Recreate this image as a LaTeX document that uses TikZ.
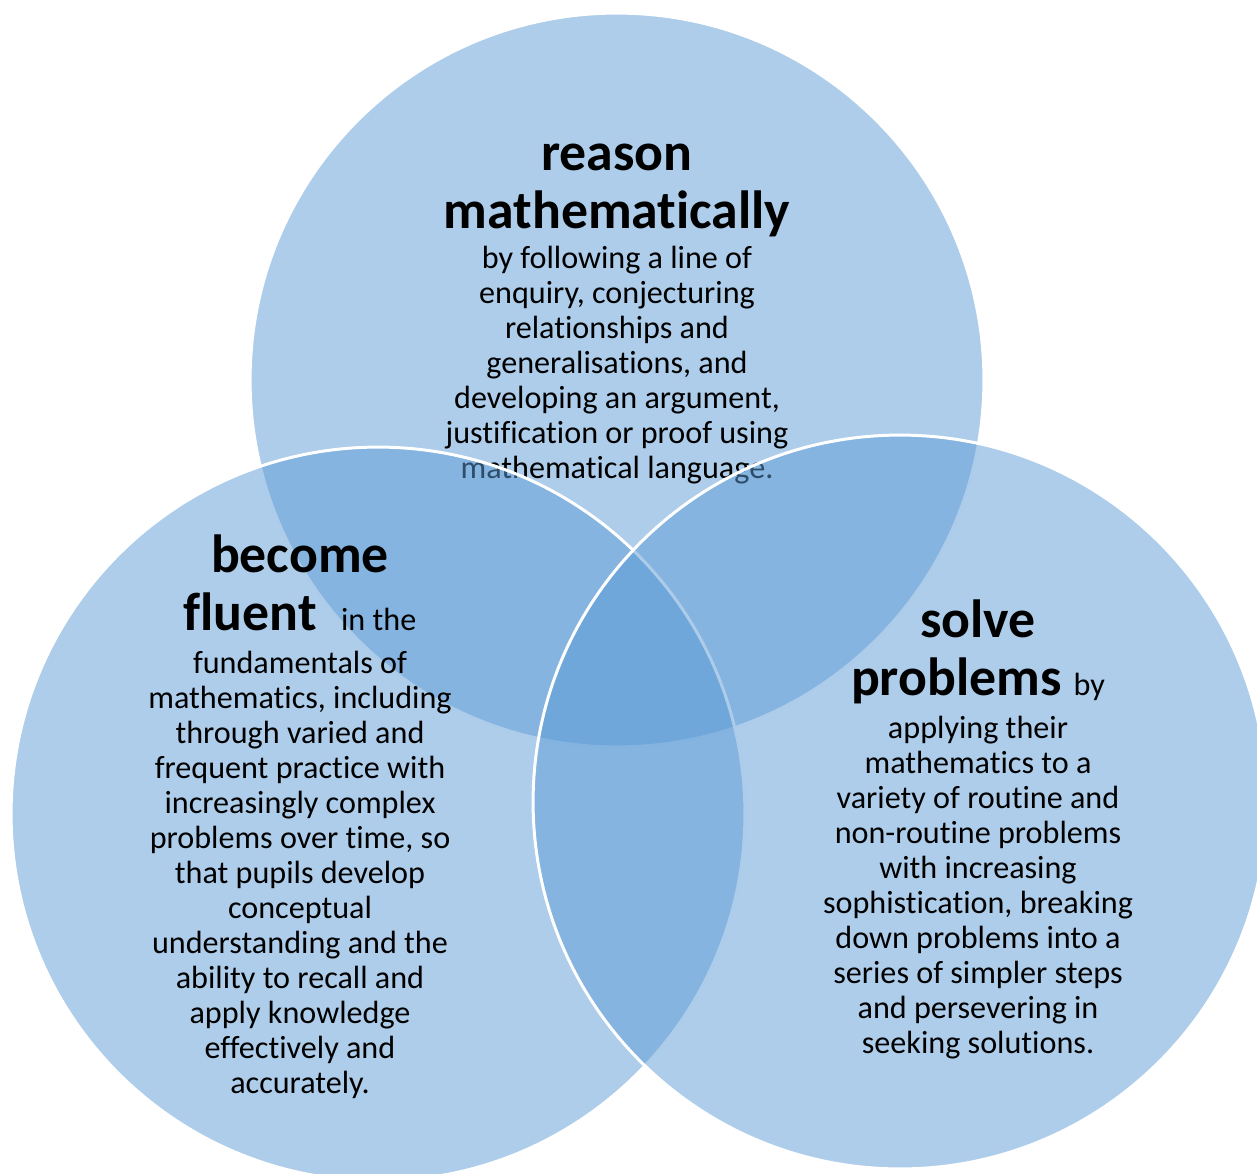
\documentclass[tikz,border=0pt]{standalone}
\usepackage{fontspec}
\setmainfont{Carlito}[Ligatures=NoCommon]
\usetikzlibrary{positioning}
\definecolor{vennblue}{RGB}{91,155,213}
\newcommand{\headfont}{\fontsize{30.6}{33}\selectfont\bfseries}
\newcommand{\bodyfont}{\fontsize{18.3}{19.9}\selectfont\mdseries}

\begin{document}
\begin{tikzpicture}
  [x=0.02cm, y=-0.02cm,
   vennset/.style={circle, minimum size=14.68cm, fill=vennblue, fill opacity=0.5,
     draw=white, line width=1.7pt},
   headtext/.style={align=center, font=\headfont, inner sep=0pt, anchor=base},
   bodytext/.style={align=center, font=\bodyfont, inner sep=0pt, anchor=base}]
  \useasboundingbox (0,0) rectangle (1257,1173);

  % top set (text nodes sit on the baseline of their last line)
  \node (reason) [vennset] at (617,380) {};
  \node (reasonhead) [headtext] at (617,228) {reason\\mathematically};
  \node (reasonbody) [bodytext] at (617,478) {by following a line of\\enquiry, conjecturing\\relationships and\\generalisations, and\\developing an argument,\\justification or proof using\\mathematical language.};

  % left set
  \node (fluent) [vennset] at (378,814) {};
  \node (fluenthead) [headtext] at (300,630) {become\\fluent\ \ {\bodyfont in the}};
  \node (fluentbody) [bodytext] at (300,1093) {fundamentals of\\mathematics, including\\through varied and\\frequent practice with\\increasingly complex\\problems over time, so\\that pupils develop\\conceptual\\understanding and the\\ability to recall and\\apply knowledge\\effectively and\\accurately.};

  % right set
  \node (solve) [vennset] at (900,802) {};
  \node (solvehead) [headtext] at (978,695) {solve\\problems {\bodyfont by}};
  \node (solvebody) [bodytext] at (978,1053) {applying their\\mathematics to a\\variety of routine and\\non-routine problems\\with increasing\\sophistication, breaking\\down problems into a\\series of simpler steps\\and persevering in\\seeking solutions.};
\end{tikzpicture}
\end{document}
